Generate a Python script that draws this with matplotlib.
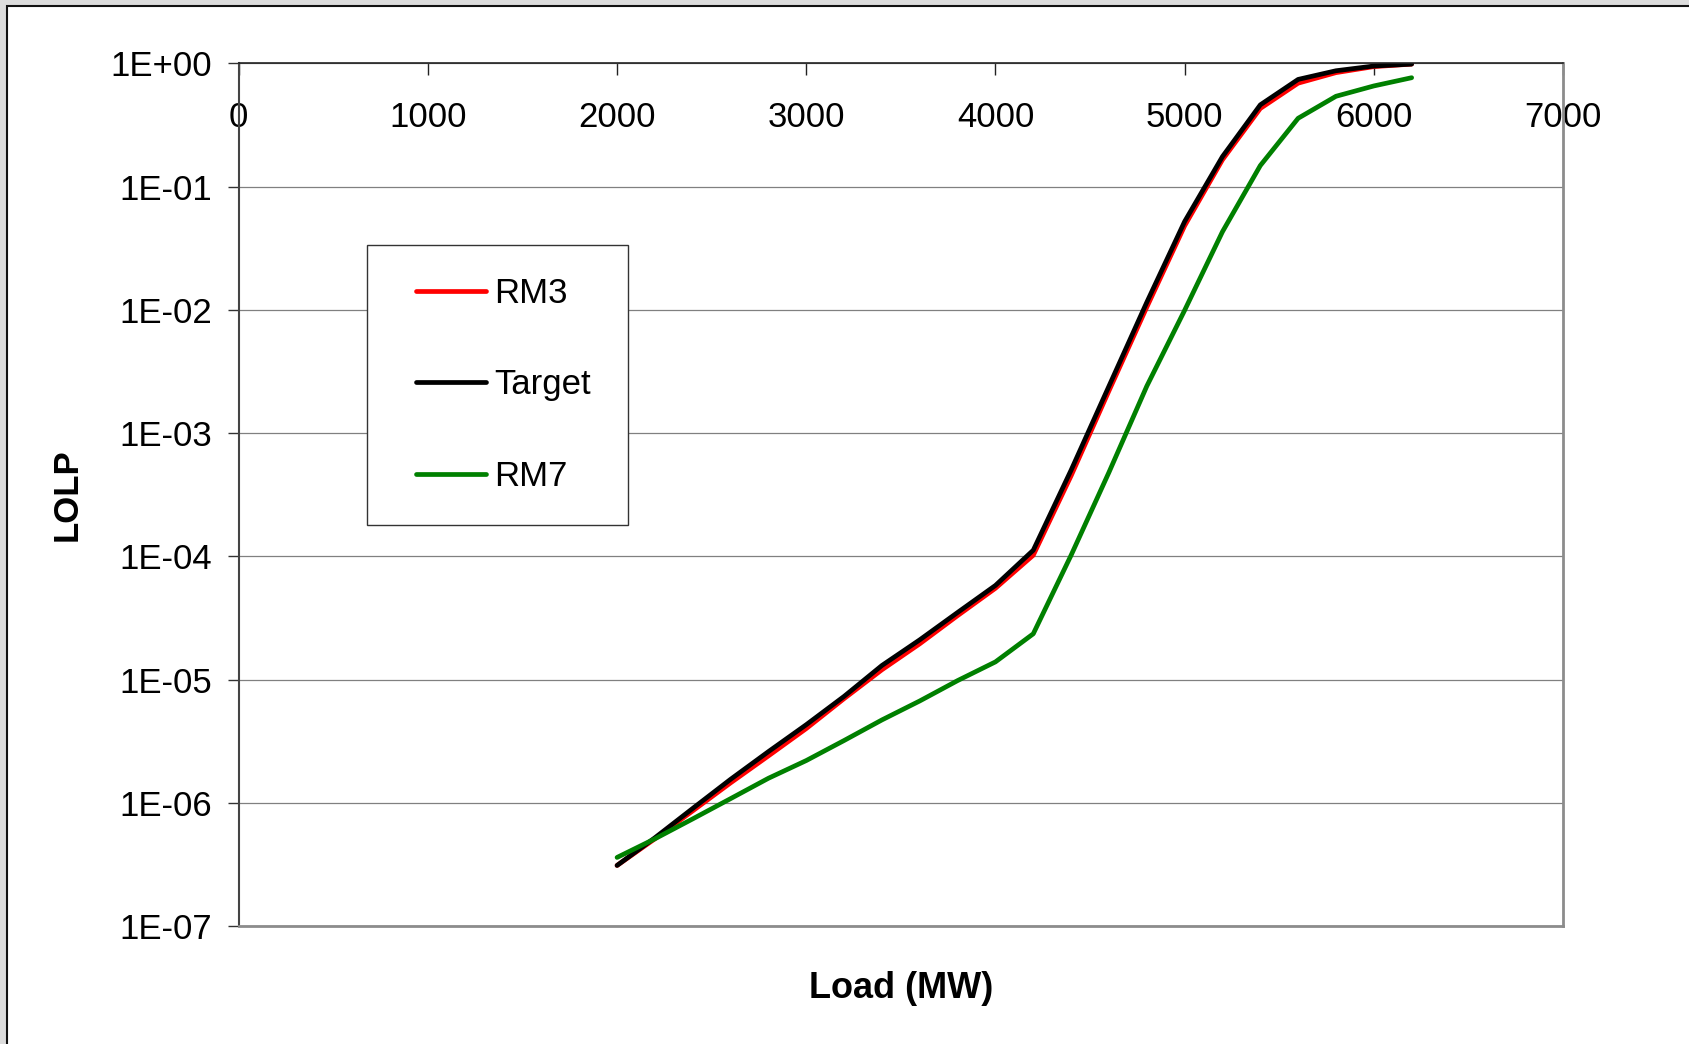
import matplotlib
matplotlib.use("Agg")
import matplotlib.pyplot as plt
from matplotlib.patches import Rectangle
from matplotlib.ticker import FixedLocator, FuncFormatter, NullLocator

# load levels (MW)
load = [2000, 2200, 2400, 2600, 2800, 3000, 3200, 3400, 3600, 3800, 4000,
        4200, 4400, 4600, 4800, 5000, 5200, 5400, 5600, 5800, 6000, 6200]

# loss of load probability for each model
rm3 = [3.1e-7, 5.1e-7, 8.6e-7, 1.45e-6, 2.4e-6, 4.0e-6, 7.0e-6, 1.2e-5,
       1.95e-5, 3.3e-5, 5.5e-5, 1.02e-4, 4.5e-4, 2.2e-3, 1.05e-2, 4.8e-2,
       0.165, 0.43, 0.69, 0.84, 0.94, 0.985]
target = [3.1e-7, 5.2e-7, 9.0e-7, 1.55e-6, 2.6e-6, 4.3e-6, 7.3e-6, 1.3e-5,
          2.1e-5, 3.5e-5, 5.8e-5, 1.12e-4, 5.0e-4, 2.4e-3, 1.15e-2, 5.2e-2,
          0.175, 0.46, 0.74, 0.87, 0.95, 0.985]
rm7 = [3.6e-7, 5.1e-7, 7.4e-7, 1.08e-6, 1.58e-6, 2.2e-6, 3.2e-6, 4.7e-6,
       6.7e-6, 9.8e-6, 1.39e-5, 2.35e-5, 1.02e-4, 4.8e-4, 2.4e-3, 9.9e-3,
       4.3e-2, 0.148, 0.358, 0.54, 0.655, 0.764]

x_ticks = [0, 1000, 2000, 3000, 4000, 5000, 6000, 7000]
y_ticks = [1e0, 1e-1, 1e-2, 1e-3, 1e-4, 1e-5, 1e-6, 1e-7]

W, H = 1689, 1044


def sci_label(v, pos):
    s = "%.0E" % v
    return s


def main():
    plt.rcParams['font.family'] = ['Liberation Sans', 'DejaVu Sans']
    fs = 25

    fig = plt.figure(figsize=(W / 100, H / 100), dpi=100)
    fig.patch.set_facecolor("#dcdcdc")

    # white page with a dark edge on top and left
    page = Rectangle((7.5 / W, -0.1), 1.2, 1 - 5.5 / H + 0.1,
                     transform=fig.transFigure, facecolor="white",
                     edgecolor="#111111", linewidth=1.5, zorder=-1)
    fig.add_artist(page)

    ax = fig.add_axes([238.7 / W, (H - 926) / H, 1324.3 / W, 862.7 / H])
    ax.set_facecolor("white")

    lw = 3.4
    ax.plot(load, rm3, color="#ff0000", lw=lw, label="RM3", zorder=2,
            solid_capstyle="round")
    ax.plot(load, target, color="black", lw=lw, label="Target", zorder=2.1,
            solid_capstyle="round")
    ax.plot(load, rm7, color="#008000", lw=lw, label="RM7", zorder=2.2,
            solid_capstyle="round")

    ax.set_yscale("log")
    ax.set_ylim(1e-7, 1)
    ax.set_xlim(0, 7000)

    ax.yaxis.set_major_locator(FixedLocator(y_ticks))
    ax.yaxis.set_minor_locator(NullLocator())
    ax.yaxis.set_major_formatter(FuncFormatter(sci_label))
    ax.xaxis.set_major_locator(FixedLocator(x_ticks))

    ax.grid(axis="y", color="#808080", lw=0.9)
    ax.set_axisbelow(True)

    ax.tick_params(axis="y", which="major", direction="out", length=8,
                   width=1, color="#333333", labelsize=fs, pad=11)
    ax.tick_params(axis="x", which="major", direction="in", length=8.5,
                   width=1, color="#222222", labelsize=fs,
                   top=True, bottom=False, labeltop=True, labelbottom=False,
                   pad=-51)

    ax.spines["top"].set_color("#222222")
    ax.spines["top"].set_linewidth(1.2)
    ax.spines["left"].set_color("#444444")
    ax.spines["left"].set_linewidth(1.5)
    ax.spines["right"].set_color("#8c8c8c")
    ax.spines["right"].set_linewidth(2)
    ax.spines["bottom"].set_color("#8c8c8c")
    ax.spines["bottom"].set_linewidth(2)

    ax.set_xlabel("Load (MW)", fontsize=26, fontweight="bold")
    ax.xaxis.set_label_coords(0.5, -0.0525)
    ax.set_ylabel("LOLP", fontsize=fs, fontweight="bold")
    ax.yaxis.set_label_coords(-0.1168, 0.5)

    # legend box
    box = Rectangle((0.0967, 0.4648), 0.1973, 0.3249, transform=ax.transAxes,
                    facecolor="white", edgecolor="#333333", lw=1, zorder=3)
    ax.add_patch(box)
    ax.legend(loc="upper left", bbox_to_anchor=(0.1337, 0.7523),
              frameon=False, fontsize=fs, borderpad=0, borderaxespad=0,
              handlelength=2.02, handletextpad=0.24, labelspacing=1.68)

    fig.savefig("out.png", dpi=100, facecolor=fig.get_facecolor())


if __name__ == "__main__":
    main()
